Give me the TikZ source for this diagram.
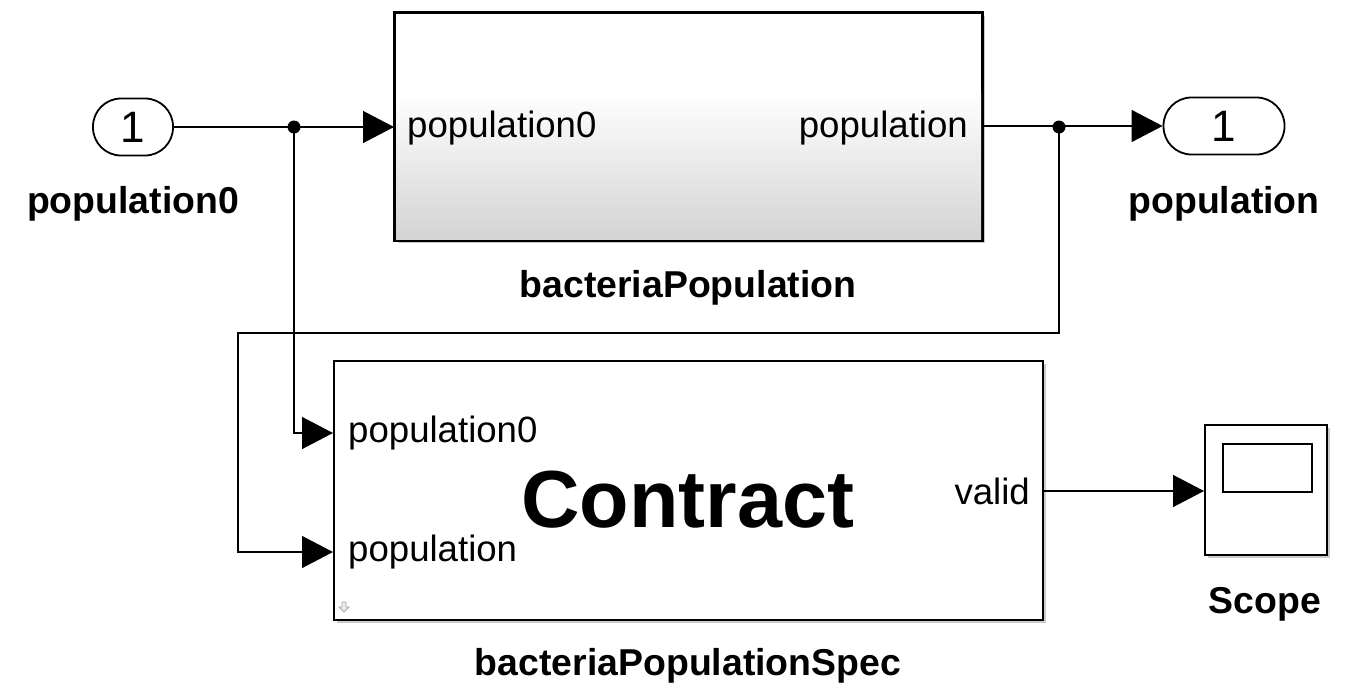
\documentclass[tikz,border=0pt]{standalone}
\usepackage{fontspec}
\setmainfont{Liberation Sans}
\usetikzlibrary{arrows.meta,shadows}
\begin{document}
\begin{tikzpicture}[x=1pt,y=-1pt,
 sig/.style={line width=1.3pt, -{Triangle[length=31pt,width=32pt]}},
 blk/.style={draw, line width=2pt, inner sep=0pt, fill=white, drop shadow={shadow xshift=3pt,shadow yshift=-3pt,opacity=0.35,fill=black!60}},
 portshape/.style={draw, line width=1.8pt, rounded corners=28pt, minimum width=80pt, minimum height=57pt, fill=white, inner sep=0pt, font=\fontsize{44}{46}\selectfont},
 lbl/.style={font=\fontsize{37.4}{40}\selectfont\bfseries, inner sep=0pt},
 ptxt/.style={font=\fontsize{36.6}{40}\selectfont, inner sep=0pt},
 dot/.style={circle, fill=black, inner sep=0pt, minimum size=13pt}]
\useasboundingbox (0,0) rectangle (1354,699);
% blocks
\node[portshape] (in1) at (133,127) {1};
\node[lbl] (in1lbl) at (133,204) {population0};
\node[blk, minimum width=587pt, minimum height=227pt] (bp) at (688.5,126.5) {};
\shade[top color=white, bottom color=black!17] (396,92) rectangle (981,239);
\draw[line width=2pt] (bp.north west) rectangle (bp.south east);
\node[ptxt, anchor=west] (bpin) at (407,128) {population0};
\node[ptxt, anchor=east] (bpout) at (968,128) {population};
\node[lbl] (bplbl) at (688,288) {bacteriaPopulation};
\node[portshape, minimum width=121pt] (out1) at (1224,126) {1};
\node[lbl] (out1lbl) at (1224,204) {population};
\node[blk, minimum width=709pt, minimum height=259pt] (spec) at (688.5,490.5) {};
\node[font=\fontsize{81}{90}\selectfont\bfseries, inner sep=0pt] (contract) at (688,500) {Contract};
\node[ptxt, anchor=west] (sin0) at (348,433) {population0};
\node[ptxt, anchor=west] (sin1) at (348,552) {population};
\node[ptxt, anchor=east] (sout) at (1030,491) {valid};
\node[lbl] (speclbl) at (688,666) {bacteriaPopulationSpec};
\draw[black!35, line width=0.8pt, fill=black!8] (342,602) -- (346,602) -- (346,607) -- (349,607) -- (344,612) -- (339,607) -- (342,607) -- cycle;
\node[blk, minimum width=122pt, minimum height=130pt] (scope) at (1266,490) {};
\node[draw, line width=1.2pt, minimum width=89pt, minimum height=48pt, inner sep=0pt] (screen) at (1267.5,468) {};
\node[lbl] (scopelbl) at (1265,604) {Scope};
% junctions
\node[dot] (j1) at (294,127) {};
\node[dot] (j2) at (1059,127) {};
\coordinate (k1) at (1059,333);
\coordinate (k2) at (238,333);
% wires
\draw[sig] (in1.east) -- (bp.west |- in1.east);
\draw[sig] (bp.east |- out1.west) -- (out1.west);
\draw[sig] (j1.center) |- (spec.west |- sin0);
\draw[sig] (j2.center) -- (k1) -- (k2) |- (spec.west |- sin1);
\draw[sig] (spec.east |- sout) -- (scope.west |- sout);
\end{tikzpicture}
\end{document}
